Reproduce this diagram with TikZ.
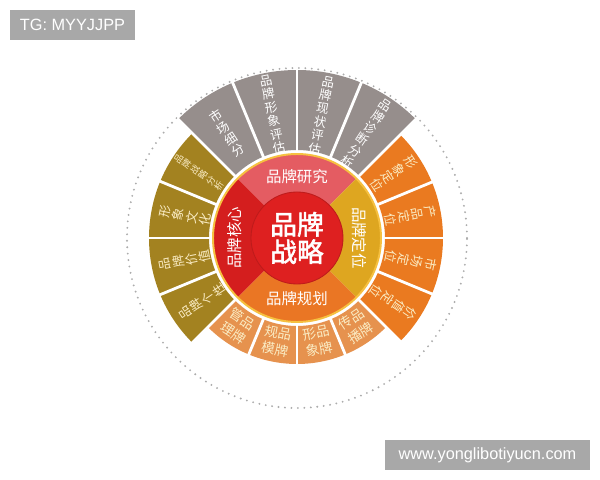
\documentclass[tikz,border=0pt]{standalone}
\usepackage{fontspec}
\setmainfont{Liberation Sans}
\newfontfamily\cjk{Noto Sans CJK SC}
\newfontfamily\cjkb[FakeBold=2]{Noto Sans CJK SC}
\usepackage{tikz}

\definecolor{graybk}{RGB}{150,142,140}
\definecolor{olivebk}{RGB}{163,130,32}
\definecolor{orangebk}{RGB}{234,122,32}
\definecolor{peachbk}{RGB}{230,146,78}
\definecolor{ringtop}{RGB}{228,92,98}
\definecolor{ringleft}{RGB}{212,30,30}
\definecolor{ringright}{RGB}{222,166,32}
\definecolor{ringbottom}{RGB}{234,118,36}
\definecolor{corered}{RGB}{222,32,32}
\definecolor{ringyellow}{RGB}{246,192,64}
\definecolor{cream}{RGB}{250,236,196}
\definecolor{markgray}{RGB}{168,168,168}

\tikzstyle{gapline} = [white, line width=2pt]
\tikzstyle{dotring} = [gray!65, line width=1.5pt, line cap=round, dash pattern=on 0pt off 4.6pt]
\tikzstyle{ringline} = [ringyellow, line width=1.4pt]
\tikzstyle{blocktext} = [align=center, inner sep=0pt, font=\cjk\fontsize{8.9}{9.7}\selectfont]
\tikzstyle{pairtext} = [align=center, inner sep=0pt, cream, font=\cjk\fontsize{9.6}{12}\selectfont]
\tikzstyle{ringtext} = [white, inner sep=0pt, font=\cjk\fontsize{11}{12}\selectfont]
\tikzstyle{markbox} = [fill=markgray, text=white, inner sep=0pt, font=\fontsize{11.6}{13}\selectfont]

\newcommand{\brandsector}[5]{\fill[#1] (#2:#4) arc[start angle=#2, end angle=#3, radius=#4] -- (#3:#5) arc[start angle=#3, end angle=#2, radius=#5] -- cycle;}

\begin{document}
\begin{tikzpicture}[x=0.025cm, y=0.025cm]
\useasboundingbox (-297,-242) rectangle (303,238);

\draw[dotring] (0,0) circle[radius=170];

% outer blocks
\brandsector{graybk}{45}{135}{88}{168}
\brandsector{orangebk}{-45}{45}{88}{146}
\brandsector{peachbk}{225}{315}{88}{126}
\brandsector{olivebk}{135}{225}{88}{148}
\foreach \a in {0,22.5,...,337.5}
  \draw[gapline] (\a:86) -- (\a:169);

% inner ring
\brandsector{ringtop}{45}{135}{45}{84}
\brandsector{ringright}{-45}{45}{45}{84}
\brandsector{ringbottom}{225}{315}{45}{84}
\brandsector{ringleft}{135}{225}{45}{84}
\draw[ringline] (0,0) circle[radius=84];
\node[circle, fill=corered, draw=corered!85!black, line width=0.6pt, minimum size=2.3cm, align=center, text=white, inner sep=0pt, font=\cjkb\fontsize{19}{19.5}\selectfont] (core) at (0,0) {品牌\\战略};

\node[ringtext] (research) at (90:61) {品牌研究};
\node[ringtext, rotate=-90] (position) at (0:62) {品牌定位};
\node[ringtext] (planning) at (270:61) {品牌规划};
\node[ringtext, rotate=90] (kernel) at (180:62) {品牌核心};

% top, gray
\node[blocktext, white, rotate=33.75] (segment) at (123.75:126) {市\\场\\细\\分};
\node[blocktext, white, rotate=11.25] (imageeval) at (101.25:126) {品\\牌\\形\\象\\评\\估};
\node[blocktext, white, rotate=-11.25] (statuseval) at (78.75:125) {品\\牌\\现\\状\\评\\估};
\node[blocktext, white, rotate=-33.75] (diagnosis) at (56.25:125) {品\\牌\\诊\\断\\分\\析};

% right, orange
\node[blocktext, cream, rotate=-56.25] (imagepos) at (33.75:116) {形\\象\\定\\位};
\node[blocktext, cream, rotate=-78.75] (productpos) at (11.25:116) {产\\品\\定\\位};
\node[blocktext, cream, rotate=-101.25] (marketpos) at (-11.25:116) {市\\场\\定\\位};
\node[blocktext, cream, rotate=-123.75] (valuepos) at (-33.75:116) {价\\值\\定\\位};

% bottom, peach
\node[pairtext, rotate=-33.75] (manage) at (236.25:106) {管品\\理牌};
\node[pairtext, rotate=-11.25] (scale) at (258.75:105) {规品\\模牌};
\node[pairtext, rotate=11.25] (brandimage) at (281.25:105) {形品\\象牌};
\node[pairtext, rotate=33.75] (spread) at (303.75:106) {传品\\播牌};

% left, olive
\node[blocktext, cream, font=\cjk\fontsize{6.5}{6.9}\selectfont, rotate=56.25] (strategy) at (146.25:118) {品\\牌\\战\\略\\分\\析};
\node[blocktext, cream, rotate=78.75] (culture) at (168.75:114) {形\\象\\文\\化};
\node[blocktext, cream, rotate=101.25] (value) at (191.25:114) {品\\牌\\价\\值};
\node[blocktext, cream, rotate=123.75] (persona) at (213.75:114) {品\\牌\\个\\性};

% corner marks
\node[markbox, minimum width=3.125cm, minimum height=0.75cm] (tag) at (-224.5,213) {TG: MYYJJPP};
\node[markbox, minimum width=5.125cm, minimum height=0.75cm] (site) at (190.5,-217) {www.yonglibotiyucn.com};
\end{tikzpicture}
\end{document}
